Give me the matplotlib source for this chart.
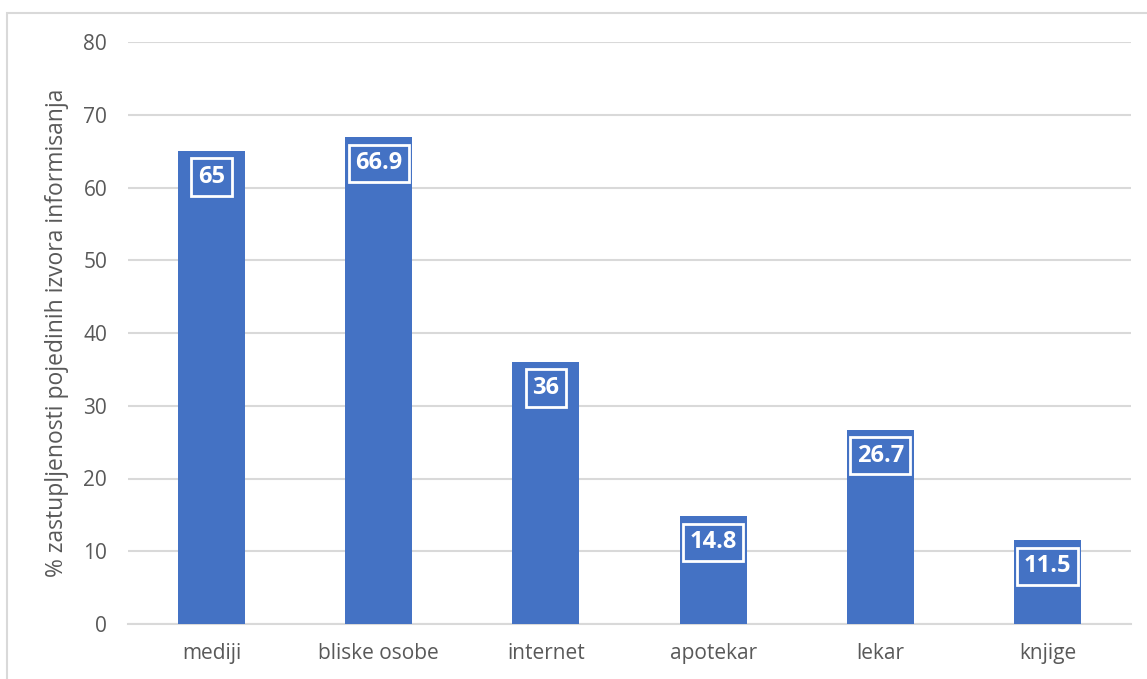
import matplotlib
matplotlib.use("Agg")
import matplotlib.pyplot as plt
from matplotlib.patches import Rectangle

categories = ["mediji", "bliske osobe", "internet", "apotekar", "lekar", "knjige"]
values = [65, 66.9, 36, 14.8, 26.7, 11.5]
yticks = [0, 10, 20, 30, 40, 50, 60, 70, 80]
ylabel = "% zastupljenosti pojedinih izvora informisanja"

plt.rcParams["font.family"] = ["Open Sans", "DejaVu Sans"]

W, H = 1147, 679
fig = plt.figure(figsize=(W / 100, H / 100), dpi=100)
ax = fig.add_axes([128 / W, 1 - 624 / H, (1131 - 128) / W, (624 - 42) / H])

bar_color = "#4472C4"
text_color = "#595959"
grid_color = "#D9D9D9"

x = list(range(len(categories)))
bars = ax.bar(x, values, width=0.4, color=bar_color, zorder=3)

ax.set_xlim(-0.5, len(categories) - 0.5)
ax.set_ylim(0, 80)
ax.set_yticks(yticks)
ax.set_yticklabels([str(t) for t in yticks], fontsize=15, color=text_color)
ax.set_xticks(x)
ax.set_xticklabels(categories, fontsize=15, color=text_color)
ax.tick_params(axis="both", length=0)
ax.tick_params(axis="y", pad=15)
ax.tick_params(axis="x", pad=14)

ax.yaxis.grid(True, color=grid_color, linewidth=1.5, zorder=0)
for s in ["top", "right", "left"]:
    ax.spines[s].set_visible(False)
ax.spines["bottom"].set_color(grid_color)
ax.spines["bottom"].set_linewidth(1.5)

ax.set_ylabel(ylabel, fontsize=16.5, color=text_color, labelpad=10)

# value labels inside the top of each bar, boxed with a white outline
for xi, v in zip(x, values):
    ax.annotate(f"{v:g}", xy=(xi, v), xytext=(0, -10), textcoords="offset points",
                ha="center", va="top", fontsize=17, fontweight="bold",
                color="white", zorder=5,
                bbox=dict(boxstyle="square,pad=0.28", facecolor="none",
                          edgecolor="white", linewidth=2))

# light frame around the chart area
frame = Rectangle((7 / W, -0.1), 1.2, 1 - 12.5 / H + 0.1, transform=fig.transFigure,
                  facecolor="none", edgecolor="#D9D9D9", linewidth=1.5)
fig.patches.append(frame)

fig.savefig("out.png", dpi=100)
